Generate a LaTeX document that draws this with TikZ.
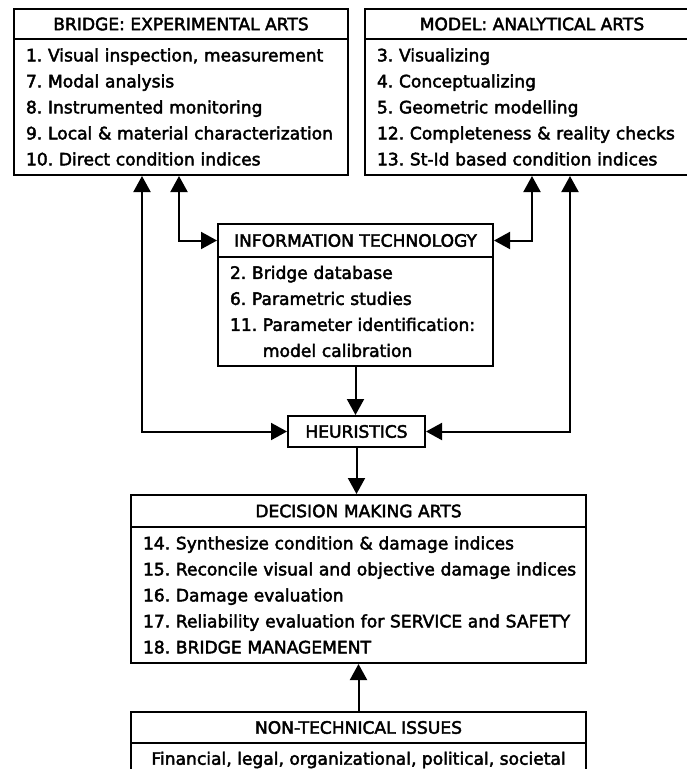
\documentclass[tikz,border=0pt]{standalone}
\usepackage{fontspec}
\setmainfont{DejaVu Sans}[FakeBold=2.5]
\usetikzlibrary{arrows.meta}
\newcommand\fsz{\fontsize{17.1}{26}\selectfont\frenchspacing}
\tikzset{
 ttl/.style={draw, anchor=north west, inner sep=0pt, font=\fsz},
 bdy/.style={draw, anchor=north west, inner xsep=12pt, inner ysep=0pt, align=left, font=\fsz},
 tip/.tip={Triangle[length=16pt,width=17pt]},
 arr/.style={-tip},
 arrs/.style={tip-tip}
}
\begin{document}
\begin{tikzpicture}[x=1pt,y=-1pt,line width=2pt]
\useasboundingbox (0,0) rectangle (687,769);
\clip (0,0) rectangle (687,769);
% bridge
\node[ttl, minimum width=334pt, minimum height=30pt] (b1t) at (13,8) {BRIDGE: EXPERIMENTAL ARTS};
\node[bdy, text width=310pt, minimum width=334pt, minimum height=136pt] (b1) at (13,38) {1. Visual inspection, measurement\\7. Modal analysis\\8. Instrumented monitoring\\\mbox{9. Local \& material characterization}\\10. Direct condition indices};
% model
\node[ttl, minimum width=334pt, minimum height=30pt] (b2t) at (364,8) {MODEL: ANALYTICAL ARTS};
\node[bdy, text width=310pt, minimum width=334pt, minimum height=136pt] (b2) at (364,38) {3. Visualizing\\4. Conceptualizing\\5. Geometric modelling\\12. Completeness \& reality checks\\13. St-Id based condition indices};
% IT
\node[ttl, minimum width=275pt, minimum height=33pt] (itt) at (217,223) {INFORMATION TECHNOLOGY};
\node[bdy, text width=251pt, minimum width=275pt, minimum height=109pt] (it) at (217,256) {2. Bridge database\\6. Parametric studies\\\mbox{11. Parameter identification:}\\\hphantom{11. }model calibration};
% heuristics
\node[ttl, minimum width=137pt, minimum height=31pt] (heur) at (287,415) {HEURISTICS};
% decision
\node[ttl, minimum width=455pt, minimum height=32pt] (dect) at (130,494) {DECISION MAKING ARTS};
\node[bdy, text width=431pt, minimum width=455pt, minimum height=136pt] (dec) at (130,526) {14. Synthesize condition \& damage indices\\\mbox{15. Reconcile visual and objective damage indices}\\16. Damage evaluation\\\mbox{17. Reliability evaluation for SERVICE and SAFETY}\\18. BRIDGE MANAGEMENT};
% non-technical
\node[ttl, minimum width=455pt, minimum height=31pt] (nont) at (130,711) {NON-TECHNICAL ISSUES};
\node[ttl, minimum width=455pt, minimum height=34pt] (non) at (130,742) {Financial, legal, organizational, political, societal};
% connectors
\draw[arrs] ([xshift=129pt]b1.south west) |- (heur.west);
\draw[arrs] ([xshift=166pt]b1.south west) |- (itt.west);
\draw[arrs] ([xshift=168pt]b2.south west) |- (itt.east);
\draw[arrs] ([xshift=206pt]b2.south west) |- (heur.east);
\draw[arr] (it.south) -- (it.south |- heur.north);
\draw[arr] (heur.south) -- (heur.south |- dect.north);
\draw[arr] (nont.north) -- (nont.north |- dec.south);
\end{tikzpicture}
\end{document}
